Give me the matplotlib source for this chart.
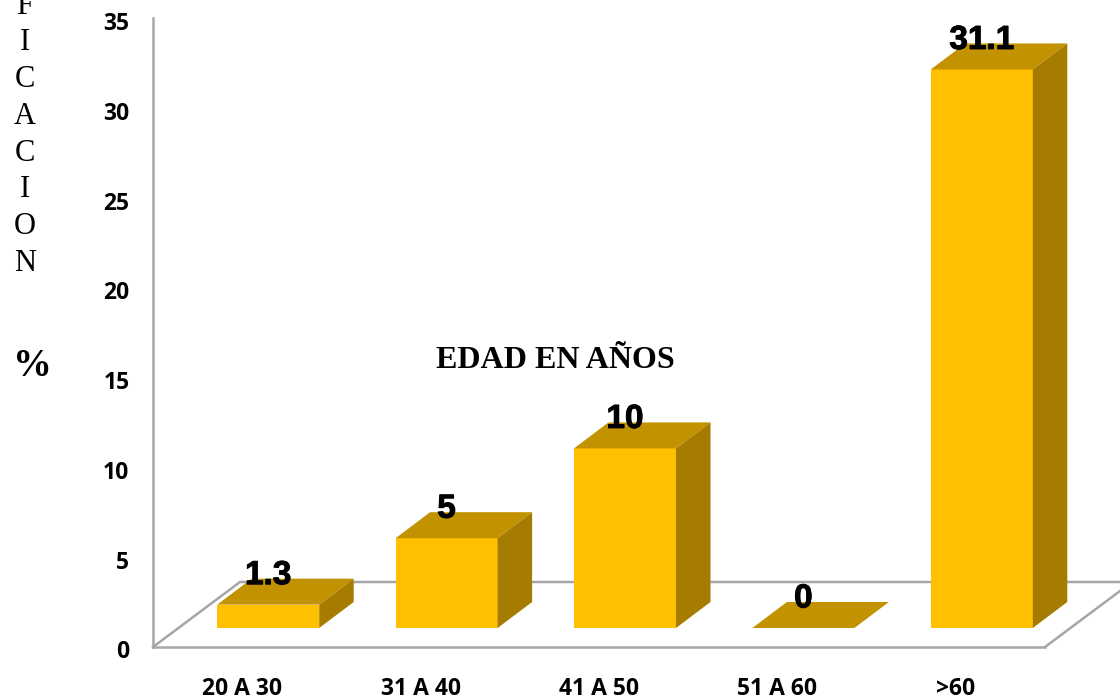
import matplotlib
matplotlib.use("Agg")
import matplotlib.pyplot as plt
import matplotlib.patheffects as pe
from matplotlib.patches import Polygon
from matplotlib.transforms import ScaledTranslation

categories = ["20 A 30", "31 A 40", "41 A 50", "51 A 60", ">60"]
values = [1.3, 5, 10, 0, 31.1]
value_labels = ["1.3", "5", "10", "0", "31.1"]
y_ticks = [0, 5, 10, 15, 20, 25, 30, 35]
side_letters = ["F", "I", "C", "A", "C", "I", "O", "N"]
title = "EDAD EN AÑOS"

W, H = 1120, 700
L, R, T, B = 153, 1045, 18.4, 647
FRONT, TOPC, SIDE, GRID = "#FFC000", "#C29200", "#A67C00", "#A6A6A6"

fig = plt.figure(figsize=(W / 100, H / 100), dpi=100)
ax = fig.add_axes([L / W, 1 - B / H, (R - L) / W, (B - T) / H])
ax.set_xlim(-0.5, 4.5)
ax.set_ylim(0, 35)

px = (R - L) / 5          # pixels per category
py = (B - T) / 35         # pixels per value unit
bar_w = 102 / px
shift = 26 / px
base = 19 / py
dx, dy = 34.5 / px, 26 / py
floor_dx, floor_dy = 87 / px, 65 / py

# floor and walls
ax.plot([-0.5, -0.5 + floor_dx, 4.5 + floor_dx], [0, floor_dy, floor_dy],
        color=GRID, lw=1.8, clip_on=False, zorder=1, solid_joinstyle="miter")
ax.plot([4.5, 4.5 + floor_dx], [0, floor_dy], color=GRID, lw=1.8, clip_on=False, zorder=1)

# bars
xs = [i + shift for i in range(len(values))]
ax.bar(xs, values, width=bar_w, bottom=base, color=FRONT, linewidth=0, zorder=3)
for x, v, lab in zip(xs, values, value_labels):
    x0, x1 = x - bar_w / 2, x + bar_w / 2
    top = base + v
    ax.add_patch(Polygon([(x0, top), (x1, top), (x1 + dx, top + dy), (x0 + dx, top + dy)],
                         closed=True, fc=TOPC, lw=0, zorder=4, clip_on=False))
    if v > 0:
        ax.add_patch(Polygon([(x1, base), (x1 + dx, base + dy), (x1 + dx, top + dy), (x1, top)],
                             closed=True, fc=SIDE, lw=0, zorder=4, clip_on=False))
    ann = ax.annotate(lab, (x, top), xytext=(0, 29 * 0.72), textcoords="offset points",
                      ha="center", va="center", fontsize=24, fontweight="bold",
                      family="Liberation Sans", color="black", zorder=6, annotation_clip=False)
    ann.set_path_effects([pe.withStroke(linewidth=0.7, foreground="black")])

# axes
for s in ["top", "right"]:
    ax.spines[s].set_visible(False)
for s in ["left", "bottom"]:
    ax.spines[s].set_color(GRID)
    ax.spines[s].set_linewidth(1.8)
ax.set_xticks(range(len(categories)), categories)
ax.set_yticks(y_ticks, [str(t) for t in y_ticks])
ax.tick_params(axis="both", length=0)
ax.tick_params(axis="x", pad=21.5)
ax.tick_params(axis="y", pad=17)
for t in ax.get_xticklabels() + ax.get_yticklabels():
    t.set_family("Open Sans")
    t.set_fontweight("bold")
    t.set_fontsize(16.5)
    t.set_color("black")
shift_down = ScaledTranslation(0, -2.5 / 100, fig.dpi_scale_trans)
for t in ax.get_yticklabels():
    t.set_transform(t.get_transform() + shift_down)

# side text, pixel placed
def ptext(x, y, s, **kw):
    return fig.text(x / W, 1 - y / H, s, ha="center", va="center",
                    family="Liberation Serif", color="black", **kw)

for i, ch in enumerate(side_letters):
    ptext(25, 6 + i * 36.8, ch, fontsize=22)
ptext(32, 366, "%", fontsize=28, fontweight="bold")
ptext(555, 361, title, fontsize=23, fontweight="bold")

fig.savefig("out.png", dpi=100, facecolor="white")
